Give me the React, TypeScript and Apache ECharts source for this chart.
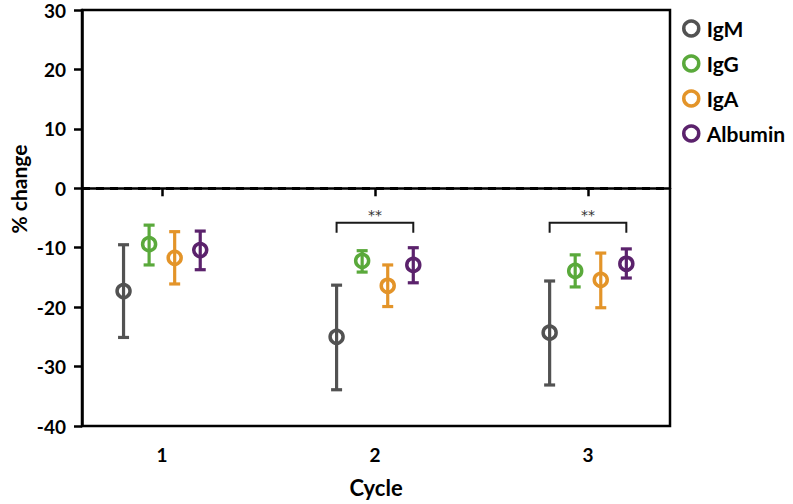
import React, { useEffect, useRef } from "react";
import * as echarts from "echarts";

const cycles = [1, 2, 3];
const seriesNames = ["IgM", "IgG", "IgA", "Albumin"];
const seriesColors = ["#525252", "#5aa93b", "#e39429", "#5b226c"];
const groupOffsets = [-0.18, -0.06, 0.06, 0.18];

const igmMean = [-17.3, -25.0, -24.3];
const igmLow = [-25.1, -33.9, -33.1];
const igmHigh = [-9.5, -16.3, -15.6];

const iggMean = [-9.4, -12.2, -13.9];
const iggLow = [-12.9, -14.1, -16.6];
const iggHigh = [-6.2, -10.5, -11.2];

const igaMean = [-11.7, -16.4, -15.4];
const igaLow = [-16.1, -19.9, -20.1];
const igaHigh = [-7.3, -12.9, -10.9];

const albMean = [-10.4, -12.9, -12.7];
const albLow = [-13.7, -15.9, -15.1];
const albHigh = [-7.2, -10.0, -10.2];

const bracketCycles = [2, 3];
const bracketLevels = [-5.8, -5.8];
const bracketLabel = "**";

const FONT = "Lato, 'Open Sans', 'DejaVu Sans', sans-serif";

export default function App() {
  const ref = useRef<HTMLDivElement>(null);

  useEffect(() => {
    if (!ref.current) return;
    const chart = echarts.init(ref.current, null, { renderer: "svg" });

    const means = [igmMean, iggMean, igaMean, albMean];
    const lows = [igmLow, iggLow, igaLow, albLow];
    const highs = [igmHigh, iggHigh, igaHigh, albHigh];

    const series: any[] = [];

    seriesNames.forEach((name, si) => {
      series.push({
        type: "scatter",
        name,
        symbol: "circle",
        symbolSize: 13,
        z: 3,
        itemStyle: {
          color: "#ffffff",
          borderColor: seriesColors[si],
          borderWidth: 3.5,
          opacity: 1,
        },
        data: cycles.map((c, i) => [c + groupOffsets[si], means[si][i]]),
        markLine:
          si === 0
            ? {
                silent: true,
                symbol: "none",
                label: { show: false },
                lineStyle: { type: [8, 6], width: 3, color: "#000" },
                data: [{ yAxis: 0 }],
              }
            : undefined,
      });
      series.push({
        type: "custom",
        name: name + "-err",
        z: 4,
        data: cycles.map((c, i) => [c + groupOffsets[si], lows[si][i], highs[si][i]]),
        renderItem: (params: any, api: any) => {
          const x = api.value(0);
          const pLo = api.coord([x, api.value(1)]);
          const pHi = api.coord([x, api.value(2)]);
          const hw = 5.5;
          const style = { stroke: seriesColors[si], lineWidth: 3.2 };
          return {
            type: "group",
            children: [
              { type: "line", shape: { x1: pLo[0], y1: pLo[1], x2: pHi[0], y2: pHi[1] }, style },
              { type: "line", shape: { x1: pLo[0] - hw, y1: pLo[1], x2: pLo[0] + hw, y2: pLo[1] }, style },
              { type: "line", shape: { x1: pHi[0] - hw, y1: pHi[1], x2: pHi[0] + hw, y2: pHi[1] }, style },
            ],
          };
        },
      });
    });

    series.push({
      type: "custom",
      name: "bracket",
      z: 4,
      itemStyle: { color: "#222" },
      data: bracketCycles.map((c, i) => [c, bracketLevels[i]]),
      renderItem: (params: any, api: any) => {
        const c = api.value(0);
        const y = api.value(1);
        const l = api.coord([c + groupOffsets[0], y]);
        const r = api.coord([c + groupOffsets[3], y]);
        const leg = 10;
        return {
          type: "group",
          children: [
            {
              type: "polyline",
              shape: {
                points: [
                  [l[0], l[1] + leg],
                  [l[0], l[1]],
                  [r[0], r[1]],
                  [r[0], r[1] + leg],
                ],
              },
              style: { stroke: "#1a1a1a", lineWidth: 2, fill: "none" },
            },
            {
              type: "text",
              x: (l[0] + r[0]) / 2,
              y: l[1] - 1,
              style: {
                text: bracketLabel,
                fill: "#333333",
                fontFamily: "'DejaVu Sans', sans-serif",
                fontSize: 14,
                align: "center",
                verticalAlign: "bottom",
              },
            },
          ],
        };
      },
    });

    chart.setOption({
      animation: false,
      grid: {
        left: 82,
        right: 123,
        top: 10,
        bottom: 78,
        show: true,
        borderColor: "#000",
        borderWidth: 2.5,
        backgroundColor: "transparent",
      },
      graphic: [
        {
          type: "text",
          x: 18,
          y: 189,
          rotation: Math.PI / 2,
          style: {
            text: "% change",
            fontFamily: FONT,
            fontWeight: "bold",
            fontSize: 21,
            fill: "#000",
            align: "center",
            verticalAlign: "middle",
          },
        },
      ],
      legend: {
        orient: "vertical",
        left: 677,
        top: 13,
        itemWidth: 15,
        itemHeight: 15,
        itemGap: 14,
        textStyle: {
          fontFamily: FONT,
          fontWeight: "bold",
          fontSize: 21,
          color: "#000",
          padding: [0, 0, 0, 3],
        },
        data: seriesNames.map((n, i) => ({
          name: n,
          icon: "circle",
          itemStyle: { color: "#fff", borderColor: seriesColors[i], borderWidth: 3.5 },
        })),
      },
      xAxis: {
        type: "value",
        min: 0.625,
        max: 3.385,
        name: "Cycle",
        nameLocation: "middle",
        nameGap: 50,
        nameTextStyle: { fontFamily: FONT, fontWeight: "bold", fontSize: 22, color: "#000" },
        splitLine: { show: false },
        axisLine: { show: true, lineStyle: { color: "#000", width: 2.5 } },
        axisTick: { show: true, length: 8, customValues: cycles, lineStyle: { color: "#000", width: 2.5 } },
        axisLabel: {
          customValues: cycles,
          margin: 19,
          fontFamily: FONT,
          fontWeight: "bold",
          fontSize: 19,
          color: "#000",
        },
      },
      yAxis: {
        type: "value",
        min: -40,
        max: 30,
        interval: 10,
        splitLine: { show: false },
        axisLine: { show: true, lineStyle: { color: "#000", width: 2.5 } },
        axisTick: { show: true, length: 8, lineStyle: { color: "#000", width: 2.5 } },
        axisLabel: {
          margin: 16,
          fontFamily: FONT,
          fontWeight: "bold",
          fontSize: 19,
          color: "#000",
        },
      },
      series,
    });

    return () => chart.dispose();
  }, []);

  return (
    <div
      ref={ref}
      style={{ position: "fixed", left: 0, top: 0, width: 793, height: 504, background: "#fff" }}
    />
  );
}
